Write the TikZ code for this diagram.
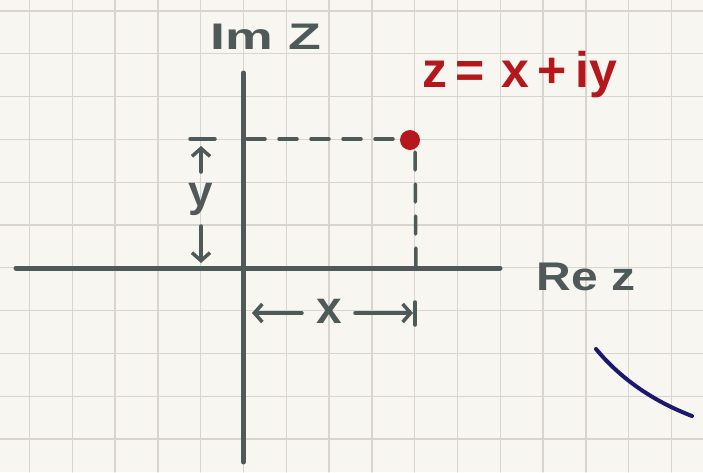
\documentclass[tikz,border=0pt]{standalone}
\usepackage{fontspec}
\setmainfont{Liberation Sans}
\usetikzlibrary{arrows.meta}
\definecolor{paper}{HTML}{F8F6F1}
\definecolor{gridline}{HTML}{D8D4CE}
\definecolor{slate}{HTML}{4E5A59}
\definecolor{pen}{HTML}{B5171B}
\definecolor{ink}{HTML}{1A1870}
\begin{document}
\begin{tikzpicture}[line cap=round,line join=round,>={Straight Barb[length=8pt,width=18pt]},x=1pt,y=-1pt,
	axis/.style={slate,line width=5pt},
	guide/.style={slate,line width=3.5pt,dash pattern=on 18pt off 14pt},
	meas/.style={slate,line width=3.5pt},
	hand/.style={slate,inner sep=0pt}]
		\fill[paper] (0,0) rectangle (703,472);
		\useasboundingbox (0,0) rectangle (703,472);
		
		% squared paper
		\foreach \i in {0,...,15}
			\draw[gridline,line width=1.3pt] ({29.5+42.8*\i},0) -- ({29.5+42.8*\i},472);
		\foreach \j in {0,...,10}
			\draw[gridline,line width=1.3pt] (0,{11+42.8*\j}) -- (703,{11+42.8*\j});
		
		\coordinate (O) at (243.5,268);
		\coordinate (P) at (410,140);
		
		\draw[axis] (243.5,73) -- (243.5,462);
		\draw[axis] (16,268) -- (500,268);
		\node[hand,font=\bfseries\fontsize{37}{37}\selectfont] (im) at (266,37) {\scalebox{1.45}[1]{Im Z}};
		\node[hand,font=\bfseries\fontsize{40}{40}\selectfont] (re) at (586,277) {\scalebox{1.2}[1]{Re z}};
		
		\draw[guide] (247,139) -- (398,139);
		\draw[guide] (415,152) -- (416,268);
		\fill[pen] (P) circle (10pt);
		\node[hand,text=pen,font=\bfseries\fontsize{50}{50}\selectfont] (z) at (520,75) {z\,=\,\,x\,+\,i\kern1pt y};
		
		% y distance
		\draw[meas] (190,139) -- (215,139);
		\node[hand,font=\bfseries\fontsize{44}{44}\selectfont] (ylab) at (201,199) {y};
		\draw[meas,->] (201,172) -- (201,146);
		\draw[meas,->] (201,226) -- (201,263);
		
		% x distance
		\node[hand,font=\bfseries\fontsize{46}{46}\selectfont] (xlab) at (329,311) {x};
		\draw[meas,->] (302,313) -- (252,313);
		\draw[meas,->] (355,313) -- (413,313);
		\draw[meas] (415,302) -- (415,325);
		
		\draw[ink,line width=4pt] (596,349) .. controls (615,372) and (645,398) .. (692,416);
	\end{tikzpicture}
\end{document}
